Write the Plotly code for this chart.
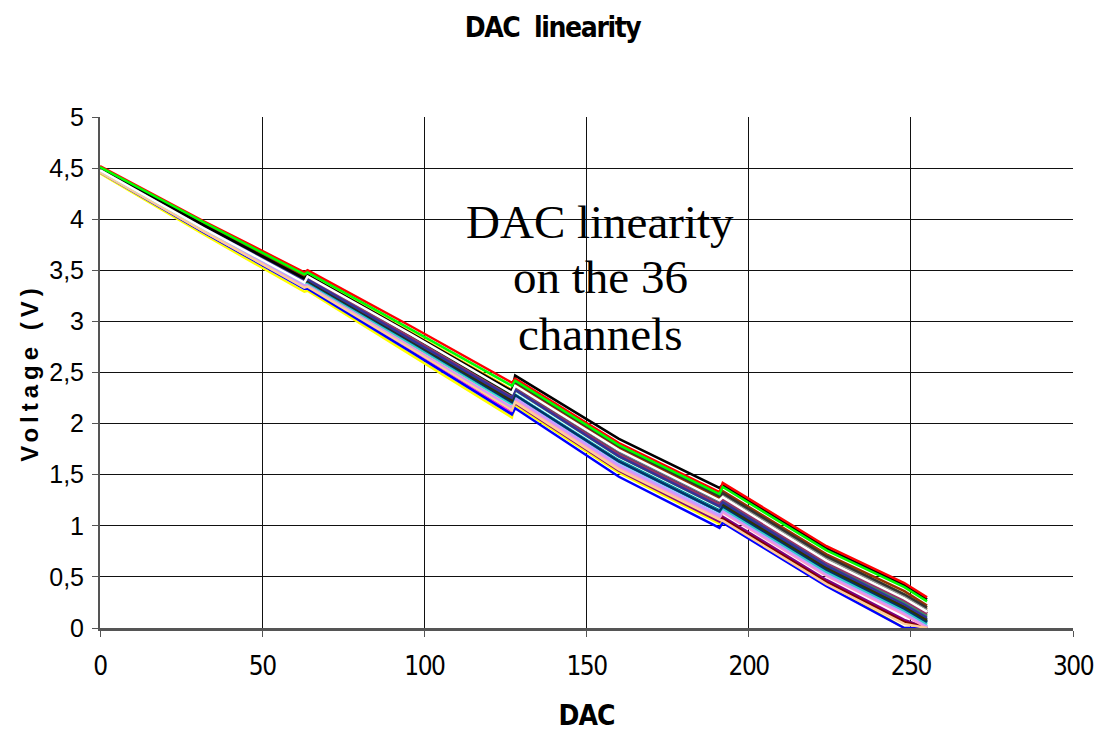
import plotly.graph_objects as go

# DAC input codes at which each channel's output voltage was sampled
# (the converter works in 64-code segments, so both sides of each
# segment boundary are kept: 63/64, 127/128, 191/192)
dac_codes = [0, 32, 63, 64, 96, 127, 128, 160, 191, 192, 224, 248, 255]

# Output voltage (V) of each of the 36 channels at the codes above
ch01 = [4.48, 3.91, 3.38, 3.38, 2.78, 2.20, 2.29, 1.65, 1.16, 1.19, 0.57, 0.19, 0.06]
ch02 = [4.46, 3.88, 3.33, 3.33, 2.71, 2.11, 2.20, 1.54, 1.04, 1.07, 0.45, 0.06, 0.00]
ch03 = [4.45, 3.85, 3.29, 3.30, 2.67, 2.06, 2.18, 1.52, 1.02, 1.05, 0.43, 0.00, 0.00]
ch04 = [4.48, 3.90, 3.37, 3.37, 2.77, 2.18, 2.28, 1.63, 1.14, 1.15, 0.53, 0.15, 0.02]
ch05 = [4.47, 3.88, 3.34, 3.34, 2.73, 2.13, 2.20, 1.54, 1.04, 1.09, 0.47, 0.08, 0.00]
ch06 = [4.47, 3.89, 3.35, 3.35, 2.74, 2.15, 2.21, 1.55, 1.06, 1.07, 0.45, 0.06, 0.00]
ch07 = [4.49, 3.92, 3.36, 3.40, 2.78, 2.20, 2.29, 1.65, 1.16, 1.19, 0.57, 0.19, 0.06]
ch08 = [4.46, 3.87, 3.32, 3.32, 2.70, 2.09, 2.15, 1.48, 0.98, 1.03, 0.41, 0.00, 0.00]
ch09 = [4.48, 3.90, 3.37, 3.39, 2.80, 2.21, 2.31, 1.67, 1.18, 1.17, 0.55, 0.17, 0.04]
ch10 = [4.49, 3.92, 3.39, 3.40, 2.81, 2.23, 2.31, 1.67, 1.18, 1.21, 0.59, 0.21, 0.08]
ch11 = [4.49, 3.92, 3.39, 3.41, 2.82, 2.25, 2.33, 1.68, 1.19, 1.23, 0.61, 0.23, 0.10]
ch12 = [4.47, 3.90, 3.36, 3.38, 2.78, 2.20, 2.25, 1.59, 1.10, 1.17, 0.55, 0.17, 0.04]
ch13 = [4.47, 3.89, 3.35, 3.36, 2.75, 2.16, 2.26, 1.61, 1.12, 1.15, 0.53, 0.15, 0.02]
ch14 = [4.47, 3.88, 3.34, 3.36, 2.75, 2.16, 2.23, 1.57, 1.08, 1.13, 0.51, 0.13, 0.00]
ch15 = [4.47, 3.89, 3.35, 3.35, 2.74, 2.15, 2.25, 1.59, 1.10, 1.15, 0.53, 0.15, 0.02]
ch16 = [4.46, 3.88, 3.33, 3.34, 2.73, 2.13, 2.21, 1.55, 1.06, 1.05, 0.43, 0.04, 0.00]
ch17 = [4.49, 3.92, 3.39, 3.40, 2.81, 2.23, 2.28, 1.63, 1.14, 1.21, 0.59, 0.21, 0.08]
ch18 = [4.48, 3.91, 3.38, 3.38, 2.78, 2.20, 2.28, 1.63, 1.14, 1.17, 0.55, 0.17, 0.04]
ch19 = [4.49, 3.93, 3.40, 3.42, 2.84, 2.26, 2.33, 1.68, 1.19, 1.24, 0.62, 0.25, 0.12]
ch20 = [4.51, 3.96, 3.45, 3.46, 2.89, 2.33, 2.41, 1.78, 1.29, 1.32, 0.70, 0.33, 0.20]
ch21 = [4.50, 3.95, 3.43, 3.44, 2.87, 2.30, 2.37, 1.74, 1.25, 1.30, 0.68, 0.31, 0.18]
ch22 = [4.50, 3.94, 3.42, 3.43, 2.85, 2.28, 2.36, 1.72, 1.23, 1.26, 0.64, 0.27, 0.14]
ch23 = [4.50, 3.93, 3.41, 3.42, 2.84, 2.26, 2.36, 1.72, 1.23, 1.26, 0.64, 0.27, 0.14]
ch24 = [4.50, 3.94, 3.42, 3.44, 2.87, 2.30, 2.39, 1.76, 1.27, 1.30, 0.68, 0.31, 0.18]
ch25 = [4.49, 3.92, 3.39, 3.39, 2.80, 2.21, 2.28, 1.63, 1.14, 1.19, 0.57, 0.19, 0.06]
ch26 = [4.49, 3.93, 3.40, 3.41, 2.82, 2.25, 2.34, 1.70, 1.21, 1.24, 0.62, 0.25, 0.12]
ch27 = [4.50, 3.93, 3.41, 3.43, 2.85, 2.28, 2.37, 1.74, 1.25, 1.28, 0.66, 0.29, 0.16]
ch28 = [4.49, 3.92, 3.39, 3.40, 2.81, 2.23, 2.34, 1.70, 1.21, 1.21, 0.59, 0.21, 0.08]
ch29 = [4.51, 3.95, 3.44, 3.45, 2.88, 2.32, 2.39, 1.76, 1.27, 1.34, 0.72, 0.36, 0.22]
ch30 = [4.50, 3.93, 3.41, 3.42, 2.84, 2.26, 2.34, 1.70, 1.21, 1.26, 0.64, 0.27, 0.14]
ch31 = [4.49, 3.93, 3.40, 3.41, 2.82, 2.25, 2.33, 1.68, 1.19, 1.23, 0.61, 0.23, 0.10]
ch32 = [4.50, 3.94, 3.42, 3.44, 2.87, 2.30, 2.41, 1.78, 1.29, 1.32, 0.70, 0.33, 0.20]
ch33 = [4.50, 3.94, 3.42, 3.45, 2.88, 2.32, 2.47, 1.85, 1.37, 1.40, 0.78, 0.42, 0.28]
ch34 = [4.48, 3.91, 3.38, 3.44, 2.87, 2.30, 2.37, 1.74, 1.25, 1.28, 0.66, 0.29, 0.16]
ch35 = [4.52, 3.98, 3.48, 3.50, 2.95, 2.40, 2.44, 1.81, 1.33, 1.42, 0.80, 0.44, 0.30]
ch36 = [4.51, 3.97, 3.46, 3.48, 2.92, 2.37, 2.42, 1.79, 1.31, 1.38, 0.76, 0.40, 0.26]

channels = [ch01, ch02, ch03, ch04, ch05, ch06, ch07, ch08, ch09, ch10, ch11, ch12,
            ch13, ch14, ch15, ch16, ch17, ch18, ch19, ch20, ch21, ch22, ch23, ch24,
            ch25, ch26, ch27, ch28, ch29, ch30, ch31, ch32, ch33, ch34, ch35, ch36]

channel_colors = [
    "#000080", "#FF00FF", "#FFFF00", "#00FFFF", "#800080", "#800000",
    "#008080", "#0000FF", "#00CCFF", "#CCFFFF", "#CCFFCC", "#FFFF99",
    "#99CCFF", "#FF99CC", "#CC99FF", "#FFCC99", "#3366FF", "#33CCCC",
    "#99CC00", "#FFCC00", "#FF9900", "#FF6600", "#666699", "#969696",
    "#003366", "#339966", "#003300", "#333300", "#993300", "#993366",
    "#333399", "#333333", "#000000", "#FFFFFF", "#FF0000", "#00FF00",
]

x_ticks = [0, 50, 100, 150, 200, 250, 300]
x_tick_text = ["0", "50", "100", "150", "200", "250", "300"]
y_ticks = [0, 0.5, 1, 1.5, 2, 2.5, 3, 3.5, 4, 4.5, 5]
y_tick_text = ["0", "0,5", "1", "1,5", "2", "2,5", "3", "3,5", "4", "4,5", "5"]

note_lines = ["DAC linearity", "on the 36", "channels"]

narrow = "DejaVu Sans Condensed, Arial Narrow, sans-serif"
sans = "Liberation Sans, Arial, sans-serif"


def tight(text, spacing):
    return f'<span style="letter-spacing:{spacing}px">{text}</span>'


fig = go.Figure()
for i, (volts, color) in enumerate(zip(channels, channel_colors)):
    fig.add_trace(go.Scatter(
        x=dac_codes, y=volts, mode="lines",
        line=dict(color=color, width=2.5),
        name=f"ch {i + 1}", showlegend=False,
    ))

# plot area spans x 100..1073 px, y 117..628 px
L, R, T, B = 100, 32, 117, 121
W, H = 1105, 749
pw, ph = W - L - R, H - T - B


def px_x(px):
    return (px - L) / pw


def px_y(py):
    return (H - B - py) / ph


annotations = []
for text, baseline in zip(note_lines, [238, 293, 350]):
    annotations.append(dict(
        text=text, xref="paper", yref="paper",
        x=px_x(600), y=px_y(baseline - 16),
        xanchor="center", yanchor="middle", showarrow=False,
        font=dict(family="Liberation Serif, Times New Roman, serif", size=47, color="black"),
    ))

fig.update_layout(
    width=W, height=H,
    margin=dict(l=L, r=R, t=T, b=B),
    paper_bgcolor="white", plot_bgcolor="white",
    title=dict(
        text="<b>" + tight("DAC\u00a0 linearity", -1.4) + "</b>",
        x=0.5, xanchor="center", xref="container",
        y=1 - 27 / H, yanchor="middle", yref="container",
        font=dict(family=narrow, size=28, color="black"),
    ),
    xaxis=dict(
        range=[0, 300], tickvals=x_ticks,
        ticktext=[tight(t, -1.5) for t in x_tick_text],
        showgrid=True, gridcolor="#111111", gridwidth=1,
        showline=True, linecolor="#555555", linewidth=3,
        ticks="outside", ticklen=6, tickcolor="#555555", tickwidth=1,
        tickfont=dict(family=narrow, size=26, color="black"),
        ticklabelstandoff=7,
        zeroline=False,
        title=dict(text="<b>" + tight("DAC", -1) + "</b>", standoff=26,
                   font=dict(family=narrow, size=28, color="black")),
    ),
    yaxis=dict(
        range=[0, 5], tickvals=y_ticks, ticktext=y_tick_text,
        showgrid=True, gridcolor="#111111", gridwidth=1,
        showline=True, linecolor="#555555", linewidth=2,
        ticks="outside", ticklen=6, tickcolor="#555555", tickwidth=1,
        tickfont=dict(family=sans, size=25, color="black"),
        ticklabelstandoff=3,
        zeroline=False,
        title=dict(text="<b>" + tight("Voltage (V)", 5) + "</b>", standoff=4,
                   font=dict(family=sans, size=24, color="black")),
    ),
    annotations=annotations,
)

fig.write_html("out.html")
